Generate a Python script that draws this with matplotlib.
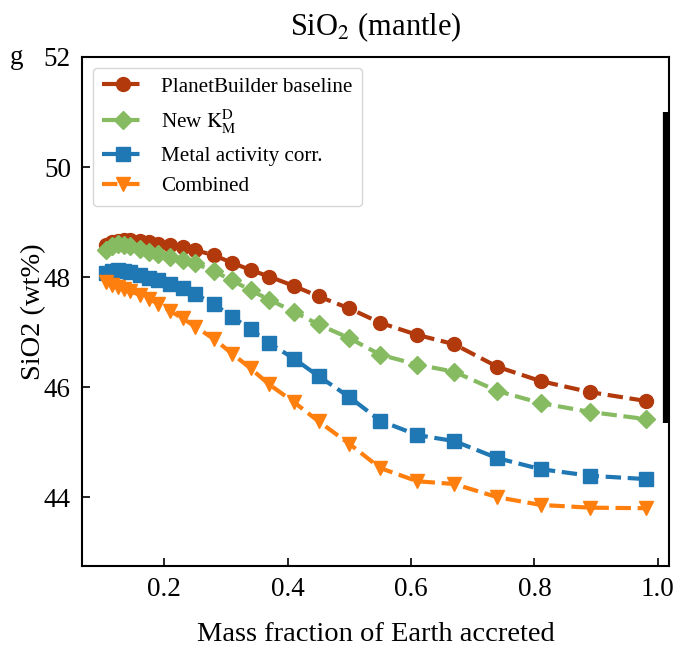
import matplotlib
matplotlib.use('Agg')
import matplotlib.pyplot as plt

plt.rcParams['font.family'] = ['Liberation Serif', 'DejaVu Serif']
plt.rcParams['mathtext.fontset'] = 'stix'

# mass fraction accreted
frac = [0.105, 0.115, 0.125, 0.135, 0.145, 0.16, 0.175, 0.19, 0.21, 0.23, 0.25,
        0.28, 0.31, 0.34, 0.37, 0.41, 0.45, 0.50, 0.55, 0.61, 0.67, 0.74, 0.81,
        0.89, 0.98]

baseline = [48.58, 48.63, 48.66, 48.67, 48.67, 48.65, 48.63, 48.61, 48.58, 48.54,
            48.49, 48.40, 48.26, 48.13, 48.01, 47.84, 47.65, 47.43, 47.17, 46.95,
            46.78, 46.37, 46.11, 45.91, 45.75]
new_kd = [48.49, 48.57, 48.60, 48.59, 48.56, 48.51, 48.46, 48.42, 48.37, 48.31,
          48.25, 48.11, 47.94, 47.76, 47.59, 47.37, 47.14, 46.89, 46.59, 46.41,
          46.28, 45.93, 45.71, 45.55, 45.42]
metal_act = [48.08, 48.12, 48.13, 48.12, 48.09, 48.04, 47.99, 47.94, 47.88, 47.80,
             47.69, 47.51, 47.28, 47.05, 46.80, 46.52, 46.20, 45.82, 45.39, 45.13,
             45.02, 44.71, 44.51, 44.39, 44.33]
combined = [47.92, 47.86, 47.82, 47.78, 47.74, 47.68, 47.60, 47.52, 47.38, 47.25,
            47.10, 46.88, 46.61, 46.34, 46.05, 45.73, 45.38, 44.97, 44.53, 44.29,
            44.24, 44.00, 43.86, 43.81, 43.80]

# observed range bar
bar_x = 1.0125
bar_range = [45.35, 51.0]

fig = plt.figure(figsize=(6.78, 6.46), dpi=100)
ax = fig.add_axes([82 / 678, 1 - 566 / 646, 587 / 678, 509 / 646])

kw = dict(linestyle='--', linewidth=3, markersize=10)
ax.plot(frac, baseline, marker='o', color='#b2390c', label='PlanetBuilder baseline', **kw)
ax.plot(frac, new_kd, marker='D', color='#87bb62', label=r'New $\mathrm{K_M^D}$',
        linestyle='--', linewidth=3, markersize=9.5)
ax.plot(frac, metal_act, marker='s', color='#1f77b4', label='Metal activity corr.', **kw)
ax.plot(frac, combined, marker='v', color='#ff7f0e', label='Combined', **kw)

ax.vlines(bar_x, bar_range[0], bar_range[1], color='black', linewidth=4.5)

ax.set_xlim(0.0667, 1.018)
ax.set_ylim(42.75, 52)
ax.set_xticks([0.2, 0.4, 0.6, 0.8, 1.0])
ax.set_yticks([44, 46, 48, 50, 52])
ax.tick_params(direction='in', labelsize=19.5, length=6, width=1.2, pad=8)
for s in ax.spines.values():
    s.set_linewidth(1.5)

ax.set_xlabel('Mass fraction of Earth accreted', fontsize=20.5, labelpad=14)
ax.set_ylabel('SiO2 (wt%)', fontsize=20.5, labelpad=-2)
ax.set_title(r'SiO$_2$ (mantle)', fontsize=22, pad=16)
fig.text(17 / 678, 1 - 57 / 646, 'g', fontsize=19.5, ha='center', va='center')

ax.legend(loc='upper left', fontsize=15.2, frameon=True, handlelength=2,
          borderpad=0.45, labelspacing=0.5, handletextpad=0.8)

fig.savefig('out.png', dpi=100)
